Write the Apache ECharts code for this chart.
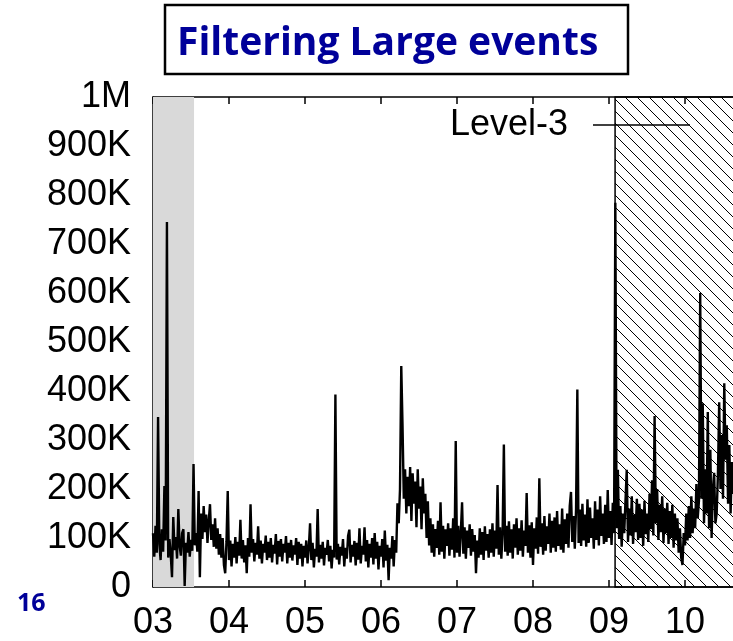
<!DOCTYPE html>
<html>
<head>
<meta charset="utf-8">
<script src="https://cdn.jsdelivr.net/npm/echarts@6/dist/echarts.min.js"></script>
<style>
  html, body { margin: 0; padding: 0; background: #fff; }
  #chart { width: 733px; height: 641px; }
</style>
</head>
<body>
<div id="chart"></div>
<script>
// Month tick labels along the time axis
const months = ['03', '04', '05', '06', '07', '08', '09', '10'];
// Two samples per day, 30-day months
const samplesPerMonth = 60;
// Level-3 event size, in thousands (K)
const level3 = [
  110, 62, 125, 70, 347, 88, 55, 118, 72, 206, 95, 745, 60, 98, 66, 20, 143, 75, 102, 58,
  159, 84, 64, 110, 118, 2, 90, 70, 112, 62, 96, 74, 251, 85, 110, 72, 196, 20, 150, 98,
  165, 112, 148, 90, 135, 169, 96, 128, 82, 140, 78, 120, 66, 108, 60, 100, 45, 28, 92, 196,
  55, 95, 42, 88, 60, 102, 48, 92, 64, 137, 58, 96, 50, 85, 28, 100, 62, 169, 70, 98,
  52, 90, 66, 124, 58, 95, 48, 88, 70, 105, 55, 92, 60, 100, 50, 86, 68, 108, 46, 94,
  62, 98, 52, 88, 70, 104, 48, 90, 60, 96, 54, 85, 66, 100, 45, 92, 58, 88, 42, 84,
  60, 95, 48, 80, 130, 55, 90, 40, 78, 62, 159, 50, 86, 58, 92, 44, 80, 66, 96, 52,
  84, 38, 76, 60, 393, 56, 88, 46, 82, 64, 98, 42, 80, 58, 104, 117, 50, 86, 62, 94,
  44, 90, 56, 120, 48, 84, 66, 122, 52, 96, 40, 88, 60, 100, 46, 110, 58, 92, 36, 84,
  62, 98, 40, 115, 54, 86, 14, 80, 58, 104, 42, 96, 70, 171, 130, 200, 451, 329, 180, 240,
  150, 225, 165, 245, 135, 232, 170, 215, 122, 240, 160, 205, 118, 222, 150, 190, 100, 175, 85, 140,
  70, 128, 62, 118, 80, 135, 66, 173, 72, 125, 58, 118, 84, 130, 64, 120, 76, 140, 60, 298,
  70, 125, 62, 110, 173, 68, 122, 58, 115, 80, 128, 64, 118, 72, 106, 28, 95, 60, 120, 66,
  112, 55, 124, 74, 108, 60, 118, 70, 130, 62, 115, 78, 208, 66, 122, 58, 110, 291, 72, 125,
  64, 134, 70, 118, 58, 128, 80, 140, 66, 120, 74, 136, 62, 115, 84, 192, 70, 126, 60, 132,
  45, 120, 78, 142, 68, 222, 82, 130, 66, 145, 74, 124, 88, 150, 70, 135, 80, 142, 72, 155,
  84, 128, 76, 160, 70, 138, 88, 150, 80, 165, 194, 92, 145, 78, 160, 403, 90, 158, 84, 170,
  95, 148, 82, 179, 90, 162, 100, 140, 78, 175, 96, 158, 85, 185, 104, 150, 88, 168, 92, 198,
  100, 155, 86, 172, 110, 784, 120, 239, 98, 165, 82, 150, 110, 175, 239, 92, 160, 105, 185, 88,
  148, 112, 180, 96, 170, 100, 158, 84, 176, 108, 150, 92, 190, 118, 218, 105, 349, 130, 200, 96,
  168, 112, 185, 90, 160, 110, 172, 88, 155, 100, 168, 80, 150, 95, 140, 70, 120, 60, 45, 110,
  85, 150, 95, 165, 100, 185, 110, 160, 120, 210, 140, 175, 600, 180, 375, 130, 240, 150, 357, 120,
  280, 100, 200, 233, 130, 150, 230, 377, 200, 310, 180, 416, 260, 330, 170, 290, 150, 255, 190
];
// Shaded periods, in months from the start of 03
const greySpan = [0, 0.54];
const hatchSpan = [6.08, 8];

// Diagonal hatch tile
function hatchTile() {
  const c = document.createElement('canvas');
  c.width = 12; c.height = 12;
  const g = c.getContext('2d');
  g.strokeStyle = '#000';
  g.lineWidth = 1;
  g.beginPath();
  g.moveTo(-1, -1); g.lineTo(13, 13);
  g.stroke();
  return c;
}

const chart = echarts.init(document.getElementById('chart'), null, { renderer: 'canvas' });
const tickFont = { fontFamily: 'Liberation Sans, Arial, sans-serif', fontSize: 36, color: '#000' };

chart.setOption({
  animation: false,
  backgroundColor: '#fff',
  // the time axis runs to 11; the plot continues past the right edge of the page
  grid: {
    left: 153, top: 97, width: 608, height: 490,
    containLabel: false,
    outerBoundsMode: 'none'
  },
  legend: {
    data: [{ name: 'Level-3', icon: 'path://M0,0L97,0L97,1.5L0,1.5Z' }],
    right: 43,
    top: 107,
    align: 'right',
    padding: 0,
    itemWidth: 97,
    itemHeight: 14,
    itemStyle: { color: '#000' },
    textStyle: Object.assign({}, tickFont, { padding: [0, 20, 0, 0] })
  },
  xAxis: [
    {
      type: 'value', min: 0, max: 8, interval: 1,
      axisLine: { show: true, lineStyle: { color: '#000', width: 1.5 } },
      axisTick: { show: true, inside: true, length: 7, lineStyle: { color: '#000', width: 1.5 } },
      axisLabel: Object.assign({}, tickFont, {
        margin: 18,
        formatter: v => months[v] || ''
      }),
      splitLine: { show: false }
    },
    {
      type: 'value', position: 'top', min: 0, max: 8, interval: 1,
      axisLine: { show: true, onZero: false, lineStyle: { color: '#000', width: 1.5 } },
      axisTick: { show: true, inside: true, length: 7, lineStyle: { color: '#000', width: 1.5 } },
      axisLabel: { show: false },
      splitLine: { show: false }
    }
  ],
  yAxis: {
    type: 'value', min: 0, max: 1000, interval: 100,
    axisLine: { show: true, lineStyle: { color: '#000', width: 1.5 } },
    axisTick: { show: false },
    axisLabel: Object.assign({}, tickFont, {
      margin: 22,
      formatter: v => v === 0 ? '0' : (v >= 1000 ? (v / 1000) + 'M' : v + 'K')
    }),
    splitLine: { show: false }
  },
  series: [{
    name: 'Level-3',
    type: 'line',
    xAxisIndex: 0,
    symbol: 'none',
    showSymbol: false,
    clip: true,
    lineStyle: { color: '#000', width: 2.4 },
    itemStyle: { color: '#000' },
    data: level3.map((v, i) => [i / samplesPerMonth, v]),
    markArea: {
      silent: true,
      data: [
        [{ xAxis: greySpan[0], itemStyle: { color: '#d9d9d9' } }, { xAxis: greySpan[1] }],
        [{ xAxis: hatchSpan[0], itemStyle: { color: { image: hatchTile(), repeat: 'repeat' }, borderColor: '#000', borderWidth: 1.5 } }, { xAxis: hatchSpan[1] }]
      ]
    }
  }],
  graphic: [
    {
      type: 'rect',
      shape: { x: 165, y: 5, width: 463, height: 69 },
      style: { fill: '#fff', stroke: '#000', lineWidth: 2.5 }
    },
    {
      type: 'text',
      left: 177, top: 24,
      style: {
        text: 'Filtering Large events',
        fill: '#000099',
        font: 'bold 39px "Open Sans", "Noto Sans", sans-serif'
      }
    },
    {
      type: 'text',
      left: 17, top: 591,
      style: {
        text: '16',
        fill: '#000099',
        font: 'bold 25px "Open Sans", "Noto Sans", sans-serif'
      }
    }
  ]
});
</script>
</body>
</html>
